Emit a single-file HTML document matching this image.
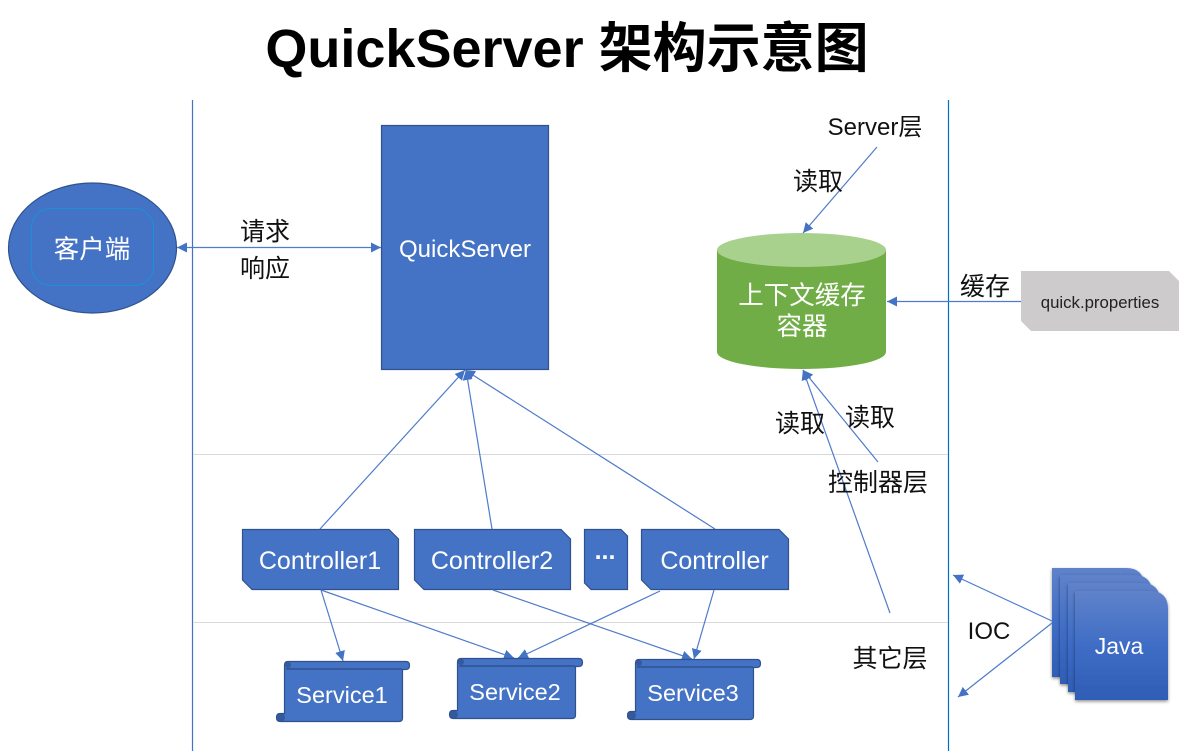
<!DOCTYPE html>
<html><head><meta charset="utf-8"><style>
html,body{margin:0;padding:0;background:#fff}
svg{display:block}
text{font-family:"Liberation Sans","Noto Sans CJK SC",sans-serif;text-anchor:middle}
.w{fill:#fff;font-size:25px}
.k{fill:#111;font-size:25px}
.v{fill:#fff;font-size:23.500px}
.c{stroke:#4f7bcb;stroke-width:1.200;fill:none}
.s{fill:#4472c4;stroke:#2f528f;stroke-width:1.200}
.d{fill:#2f528f;opacity:.75}
</style></head><body>
<svg width="1187" height="751" viewBox="0 0 1187 751" xmlns="http://www.w3.org/2000/svg">
<defs>
<marker id="a" markerUnits="userSpaceOnUse" markerWidth="11" markerHeight="11" refX="10" refY="5" orient="auto-start-reverse"><path d="M0 0L10 5L0 10z" fill="#4472c4"/></marker>
<linearGradient id="g" x1="0" y1="0" x2="0" y2="1"><stop offset="0" stop-color="#5f82ca"/><stop offset=".5" stop-color="#3f6dc5"/><stop offset="1" stop-color="#2f5db5"/></linearGradient>
<filter id="sh" x="-15%" y="-15%" width="130%" height="130%"><feDropShadow dx="0" dy="1.500" stdDeviation="1.500" flood-color="#000" flood-opacity=".45"/></filter>
</defs>

<text x="567" y="67" style="font-size:54px;font-weight:700;fill:#000">QuickServer 架构示意图</text>

<line x1="192.500" y1="100" x2="192.500" y2="751" stroke="#4472c4" stroke-width="1.200"/>
<line x1="948.500" y1="100" x2="948.500" y2="751" stroke="#0070c0" stroke-width="1.200"/>
<line x1="193" y1="454.500" x2="948" y2="454.500" stroke="#d9d9d9"/>
<line x1="193" y1="622.500" x2="948" y2="622.500" stroke="#d9d9d9"/>

<!-- client -->
<ellipse cx="92.500" cy="248" rx="84" ry="65" class="s"/>
<rect x="31.500" y="208.500" width="122" height="77" rx="19" fill="none" stroke="#0d9bdc" stroke-width=".8"/>
<text x="92" y="258" class="w" style="font-size:25.500px">客户端</text>

<line x1="177" y1="247.500" x2="381" y2="247.500" class="c" marker-start="url(#a)" marker-end="url(#a)"/>
<text x="265" y="240" class="k">请求</text>
<text x="265" y="277" class="k">响应</text>

<!-- QuickServer -->
<rect x="381.500" y="125.500" width="167" height="244" class="s"/>
<text x="465" y="257" class="w" style="font-size:24px">QuickServer</text>

<!-- cylinder -->
<path d="M717 250V352A84.500 17 0 0 0 886 352V250z" fill="#70ad47"/>
<ellipse cx="801.500" cy="250" rx="84.500" ry="17" fill="#a9d18e"/>
<text x="802" y="304" class="w" style="font-size:25.500px">上下文缓存</text>
<text x="802" y="335" class="w" style="font-size:25.500px">容器</text>

<!-- properties -->
<path d="M1021 271H1169L1179 281V331H1031L1021 321z" fill="#cdcbcc"/>
<text x="1100" y="308" style="font-size:16.800px;fill:#222">quick.properties</text>
<line x1="1021" y1="301.500" x2="887" y2="301.500" class="c" marker-end="url(#a)"/>
<text x="985" y="295" class="k">缓存</text>

<!-- top label -->
<text x="875" y="135" class="k" style="font-size:24px">Server层</text>
<line x1="877" y1="147" x2="803" y2="233" class="c" marker-end="url(#a)"/>
<text x="818" y="190" class="k">读取</text>

<!-- reads -->
<line x1="878" y1="462" x2="803" y2="370" class="c" marker-end="url(#a)"/>
<line x1="890" y1="613" x2="803" y2="370" class="c" marker-end="url(#a)"/>
<text x="870" y="426" class="k">读取</text>
<text x="800" y="432" class="k">读取</text>
<text x="878" y="491" class="k">控制器层</text>
<text x="890" y="667" class="k">其它层</text>

<!-- controller to server -->
<line x1="320" y1="529" x2="465" y2="370" class="c" marker-end="url(#a)"/>
<line x1="492" y1="529" x2="466" y2="370" class="c" marker-end="url(#a)"/>
<line x1="715" y1="529" x2="465" y2="370" class="c" marker-end="url(#a)"/>

<!-- controllers -->
<path class="s" d="M242.500 529.500H389L398.500 539V589.500H252L242.500 580z"/>
<text x="320" y="569" class="w">Controller1</text>
<path class="s" d="M414.500 529.500H561L570.500 539V589.500H424L414.500 580z"/>
<text x="492" y="569" class="w">Controller2</text>
<path class="s" d="M584.500 529.500H621L627.500 536V589.500H591L584.500 583z"/>
<text x="605" y="559" class="w" style="font-weight:700">...</text>
<path class="s" d="M641.500 529.500H779L788.500 539V589.500H651L641.500 580z"/>
<text x="714.500" y="569" class="w">Controller</text>

<!-- controller to service -->
<line x1="321" y1="590" x2="343" y2="661" class="c" marker-end="url(#a)"/>
<line x1="321" y1="590" x2="514" y2="658" class="c" marker-end="url(#a)"/>
<line x1="660" y1="591" x2="518" y2="658" class="c" marker-end="url(#a)"/>
<line x1="493" y1="590" x2="692" y2="659" class="c" marker-end="url(#a)"/>
<line x1="714" y1="590" x2="694" y2="659" class="c" marker-end="url(#a)"/>

<!-- services -->
<g id="sv">
<path class="s" d="M284.500 665Q284.500 661.500 288 661.500H406Q409.500 661.500 409.500 665.500Q409.500 669.500 406 669.500H402.500V718Q402.500 721.500 399 721.500H280Q276.500 721.500 276.500 717.500Q276.500 713.500 280 713.500H284.500z"/>
<rect x="286" y="668" width="116" height="2" class="d"/>
<circle cx="288" cy="665" r="3" class="d"/>
<circle cx="281" cy="717.500" r="4" class="d"/>
</g>
<text x="342" y="703" class="v">Service1</text>
<use href="#sv" x="173" y="-3"/>
<text x="515" y="700" class="v">Service2</text>
<use href="#sv" x="351" y="-2"/>
<text x="693" y="701" class="v">Service3</text>

<!-- java -->
<path filter="url(#sh)" d="M1052 568H1126Q1144 568 1144 586V677H1052z" fill="url(#g)"/>
<path filter="url(#sh)" d="M1060 575H1134Q1152 575 1152 593V684H1060z" fill="url(#g)"/>
<path filter="url(#sh)" d="M1068 583H1142Q1160 583 1160 601V692H1068z" fill="url(#g)"/>
<path filter="url(#sh)" d="M1075 591H1150Q1168 591 1168 609V700H1075z" fill="url(#g)"/>
<text x="1119" y="654" class="w" style="font-size:23px">Java</text>
<line x1="1052" y1="621" x2="953" y2="575" class="c" marker-end="url(#a)"/>
<line x1="1052" y1="623" x2="958" y2="697" class="c" marker-end="url(#a)"/>
<text x="989" y="639" class="k" style="font-size:24px">IOC</text>
</svg>
</body></html>
